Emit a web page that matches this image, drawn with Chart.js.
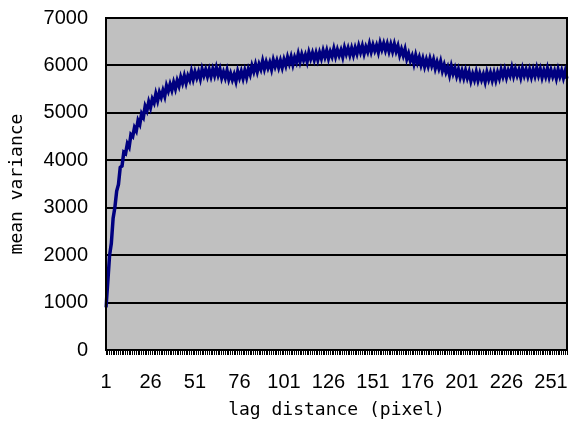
<!DOCTYPE html>
<html>
<head>
<meta charset="utf-8">
<script src="https://cdn.jsdelivr.net/npm/chart.js@4.4.1/dist/chart.umd.min.js"></script>
<style>
  body { margin: 0; background: #fff; }
  #wrap { width: 573px; height: 433px; }
</style>
</head>
<body>
<div id="wrap"><canvas id="myVariogram" width="573" height="433"></canvas></div>
<script>
// lag 1..260, mean variance (the zigzag is in the data)
let lags = [];
for (let i = 1; i <= 260; i++) lags.push(String(i));

let meanVariance = [
    900, 1430, 1990, 2250, 2780, 3010, 3350, 3490, 3850, 3880,
    4170, 4140, 4350, 4280, 4540, 4500, 4690, 4620, 4840, 4760,
    4980, 4910, 5140, 5050, 5230, 5110, 5290, 5210, 5400, 5260,
    5430, 5330, 5470, 5350, 5570, 5460, 5600, 5480, 5640, 5510,
    5680, 5570, 5750, 5630, 5780, 5630, 5780, 5690, 5870, 5710,
    5860, 5740, 5860, 5720, 5920, 5790, 5910, 5770, 5910, 5770,
    5920, 5790, 5950, 5800, 5920, 5740, 5860, 5740, 5890, 5710,
    5830, 5700, 5810, 5670, 5870, 5740, 5870, 5730, 5890, 5750,
    5920, 5810, 5990, 5870, 6020, 5870, 6020, 5920, 6090, 5930,
    6070, 5950, 6060, 5920, 6110, 5980, 6100, 5960, 6100, 5960,
    6120, 6000, 6170, 6040, 6180, 6020, 6170, 6070, 6240, 6080,
    6230, 6110, 6220, 6080, 6270, 6140, 6260, 6120, 6260, 6120,
    6270, 6150, 6310, 6180, 6310, 6150, 6290, 6190, 6350, 6190,
    6330, 6210, 6320, 6180, 6370, 6240, 6360, 6220, 6360, 6220,
    6370, 6250, 6410, 6280, 6410, 6250, 6390, 6290, 6450, 6290,
    6430, 6310, 6420, 6280, 6470, 6340, 6460, 6320, 6450, 6300,
    6440, 6300, 6450, 6300, 6410, 6220, 6340, 6210, 6340, 6140,
    6250, 6100, 6200, 6040, 6210, 6060, 6170, 6010, 6140, 5980,
    6120, 5990, 6140, 6000, 6120, 5940, 6070, 5940, 6080, 5890,
    6010, 5860, 5960, 5800, 5980, 5830, 5940, 5780, 5910, 5750,
    5880, 5740, 5890, 5740, 5860, 5680, 5820, 5700, 5860, 5690,
    5830, 5700, 5810, 5660, 5850, 5710, 5840, 5690, 5840, 5690,
    5850, 5730, 5900, 5770, 5910, 5750, 5890, 5790, 5950, 5780,
    5920, 5790, 5900, 5750, 5930, 5790, 5910, 5770, 5910, 5760,
    5910, 5780, 5940, 5790, 5920, 5750, 5890, 5770, 5930, 5760,
    5900, 5770, 5880, 5730, 5910, 5770, 5890, 5740, 5880, 5720
];

let yTicks = [0, 1000, 2000, 3000, 4000, 5000, 6000, 7000];
let labelEvery = 25;

// grey plot area + black frame like the old excel chart
let plotArea = {
    id: 'plotArea',
    beforeDraw(chart) {
        let c = chart.ctx, a = chart.chartArea;
        c.save();
        c.fillStyle = '#c0c0c0';
        c.fillRect(a.left, a.top, a.right - a.left, a.bottom - a.top);
        c.restore();
    },
    afterDraw(chart) {
        let c = chart.ctx, a = chart.chartArea;
        c.save();
        c.strokeStyle = '#000';
        c.lineWidth = 2;
        c.strokeRect(a.left, a.top, a.right - a.left, a.bottom - a.top);
        c.restore();
    }
};

// let the layout padding alone decide where the plot area sits
function noPad(s) {
    s.paddingTop = 0;
    s.paddingBottom = 0;
    s.paddingLeft = 0;
    s.paddingRight = 0;
}

let ctx = document.getElementById('myVariogram').getContext('2d');

let myChart = new Chart(ctx, {
    type: 'line',
    data: {
        labels: lags,
        datasets: [{
            label: 'mean variance',
            data: meanVariance,
            borderColor: '#000080',
            borderWidth: 3.5,
            pointRadius: 0,
            tension: 0,
            fill: false
        }]
    },
    options: {
        responsive: false,
        animation: false,
        devicePixelRatio: 1,
        layout: {
            padding: { top: 18, right: 6, left: 0, bottom: 0 }
        },
        plugins: {
            legend: { display: false },
            tooltip: { enabled: false }
        },
        scales: {
            x: {
                type: 'category',
                offset: false,
                afterFit: (s) => { s.height = 83; noPad(s); },
                border: { display: true, color: '#000', width: 2 },
                grid: {
                    drawOnChartArea: false,
                    drawTicks: true,
                    tickLength: 5,
                    color: '#000',
                    lineWidth: 1
                },
                ticks: {
                    autoSkip: false,
                    maxRotation: 0,
                    padding: 15,
                    color: '#000',
                    font: { family: 'Liberation Sans', size: 20 },
                    callback: function (val, i) {
                        return i % labelEvery === 0 ? lags[i] : '';
                    }
                },
                title: {
                    display: true,
                    text: 'lag distance (pixel)',
                    color: '#000',
                    font: { family: 'DejaVu Sans Mono', size: 18 },
                    padding: { top: 0, bottom: 12 }
                }
            },
            y: {
                min: 0,
                max: 7000,
                afterFit: (s) => { s.width = 106; noPad(s); },
                afterBuildTicks: (s) => { s.ticks = yTicks.map(v => ({ value: v })); },
                border: { display: true, color: '#000', width: 2 },
                grid: {
                    color: '#000',
                    lineWidth: 2,
                    drawTicks: false
                },
                ticks: {
                    padding: 18,
                    color: '#000',
                    font: { family: 'Liberation Sans', size: 20 },
                    callback: (v) => String(v)
                },
                title: {
                    display: true,
                    text: 'mean variance',
                    color: '#000',
                    font: { family: 'DejaVu Sans Mono', size: 18 },
                    padding: { top: 7, bottom: 0 }
                }
            }
        }
    },
    plugins: [plotArea]
});
</script>
</body>
</html>
